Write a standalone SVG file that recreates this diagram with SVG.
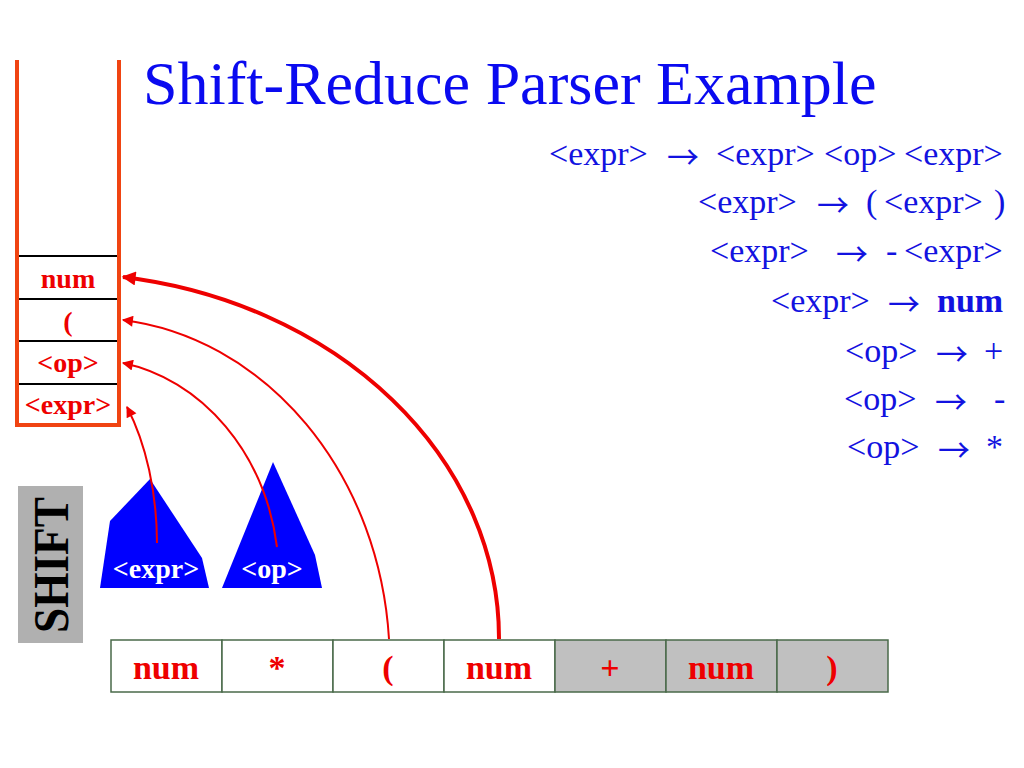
<svg xmlns="http://www.w3.org/2000/svg" width="1024" height="768" viewBox="0 0 1024 768">
<style>
.title{font-family:"Liberation Serif","Times New Roman",serif;font-size:62px;fill:#0a0af0}
.gram{font-family:"Liberation Serif","Times New Roman",serif;font-size:34px;fill:#1212e0}
.gb{font-weight:bold}
.arr{font-family:"Noto Sans CJK JP","Noto Sans CJK SC",sans-serif;font-size:32px}
.stk{font-family:"Liberation Serif","Times New Roman",serif;font-size:28px;font-weight:bold;fill:#ee0000;text-anchor:middle}
.tape{font-family:"Liberation Serif","Times New Roman",serif;font-size:34px;font-weight:bold;fill:#ee0000;text-anchor:middle}
.tri{font-family:"Liberation Serif","Times New Roman",serif;font-size:28px;font-weight:bold;fill:#ffffff;text-anchor:middle}
.cell{stroke:#4a6a4a;stroke-width:1.5}
.conn{fill:none;stroke:#ee0000}
</style>
<defs>
<marker id="ah" viewBox="0 0 10 10" refX="9" refY="5" markerWidth="14" markerHeight="11" markerUnits="userSpaceOnUse" orient="auto">
<path d="M0,0 L10,5 L0,10 z" fill="#ee0000"/>
</marker>
<marker id="ahb" viewBox="0 0 10 10" refX="9" refY="5" markerWidth="18" markerHeight="14" markerUnits="userSpaceOnUse" orient="auto">
<path d="M0,0 L10,5 L0,10 z" fill="#ee0000"/>
</marker>
</defs>
<rect width="1024" height="768" fill="#ffffff"/>

<text class="title" x="143" y="104">Shift-Reduce Parser Example</text>

<g id="grammar" class="gram">
<text y="165"><tspan x="549">&lt;expr&gt;</tspan><tspan x="667" dy="4" class="arr">→</tspan><tspan x="716" dy="-4">&lt;expr&gt;</tspan><tspan x="824">&lt;op&gt;</tspan><tspan x="904">&lt;expr&gt;</tspan></text>
<text y="213"><tspan x="698">&lt;expr&gt;</tspan><tspan x="817" dy="4" class="arr">→</tspan><tspan x="866" dy="-4">(</tspan><tspan x="884">&lt;expr&gt;</tspan><tspan x="994">)</tspan></text>
<text y="262"><tspan x="710">&lt;expr&gt;</tspan><tspan x="836" dy="4" class="arr">→</tspan><tspan x="886" dy="-4">-</tspan><tspan x="904">&lt;expr&gt;</tspan></text>
<text y="312"><tspan x="771">&lt;expr&gt;</tspan><tspan x="888" dy="4" class="arr">→</tspan><tspan x="937" dy="-4" class="gb">num</tspan></text>
<text y="362"><tspan x="845">&lt;op&gt;</tspan><tspan x="936" dy="4" class="arr">→</tspan><tspan x="984" dy="-4">+</tspan></text>
<text y="410"><tspan x="844">&lt;op&gt;</tspan><tspan x="935" dy="4" class="arr">→</tspan><tspan x="994" dy="-4">-</tspan></text>
<text y="458"><tspan x="847">&lt;op&gt;</tspan><tspan x="938" dy="4" class="arr">→</tspan><tspan x="986" dy="-4">*</tspan></text>
</g>

<g id="stack">
<line x1="17" y1="60" x2="17" y2="427" stroke="#f04412" stroke-width="4"/>
<line x1="119" y1="60" x2="119" y2="427" stroke="#f04412" stroke-width="4"/>
<line x1="15" y1="425" x2="121" y2="425" stroke="#f04412" stroke-width="4"/>
<g stroke="#000" stroke-width="2">
<line x1="19" y1="256" x2="117" y2="256"/>
<line x1="19" y1="299" x2="117" y2="299"/>
<line x1="19" y1="341" x2="117" y2="341"/>
<line x1="19" y1="384" x2="117" y2="384"/>
</g>
<text class="stk" x="68" y="288">num</text>
<text class="stk" x="68" y="331">(</text>
<text class="stk" x="68" y="372">&lt;op&gt;</text>
<text class="stk" x="68" y="414">&lt;expr&gt;</text>
</g>

<g id="shift">
<rect x="18" y="486" width="65" height="157" fill="#b0b0b0"/>
<text transform="translate(68,565) rotate(-90)" x="0" y="0" text-anchor="middle" font-family="Liberation Serif, Times New Roman, serif" font-weight="bold" font-size="50" textLength="136" lengthAdjust="spacingAndGlyphs" fill="#000">SHIFT</text>
</g>

<g id="tree-expr">
<polygon points="150,479 202,558 209,588 100,588 110,521" fill="#0000ff"/>
<text class="tri" x="156" y="578">&lt;expr&gt;</text>
</g>
<g id="tree-op">
<polygon points="273,462 315,555 322,588 222,588" fill="#0000ff"/>
<text class="tri" x="272" y="578">&lt;op&gt;</text>
</g>

<g id="tape">
<rect class="cell" x="111" y="640" width="111" height="52" fill="#fff"/>
<rect class="cell" x="222" y="640" width="111" height="52" fill="#fff"/>
<rect class="cell" x="333" y="640" width="111" height="52" fill="#fff"/>
<rect class="cell" x="444" y="640" width="111" height="52" fill="#fff"/>
<rect class="cell" x="555" y="640" width="111" height="52" fill="#c0c0c0"/>
<rect class="cell" x="666" y="640" width="111" height="52" fill="#c0c0c0"/>
<rect class="cell" x="777" y="640" width="111" height="52" fill="#c0c0c0"/>
<text class="tape" x="166" y="679">num</text>
<text class="tape" x="277" y="679">*</text>
<text class="tape" x="388" y="679">(</text>
<text class="tape" x="499" y="679">num</text>
<text class="tape" x="610" y="679">+</text>
<text class="tape" x="721" y="679">num</text>
<text class="tape" x="832" y="679">)</text>
</g>

<g id="connectors">
<path class="conn" d="M499,639 A440,365 0 0 0 123,277" stroke-width="4" marker-end="url(#ahb)"/>
<path class="conn" d="M389,639 A300,345 0 0 0 123,320" stroke-width="2" marker-end="url(#ah)"/>
<path class="conn" d="M277,547 A190,220 0 0 0 123,363" stroke-width="2" marker-end="url(#ah)"/>
<path class="conn" d="M157,543 A110,200 0 0 0 127,407" stroke-width="2" marker-end="url(#ah)"/>
</g>
</svg>
